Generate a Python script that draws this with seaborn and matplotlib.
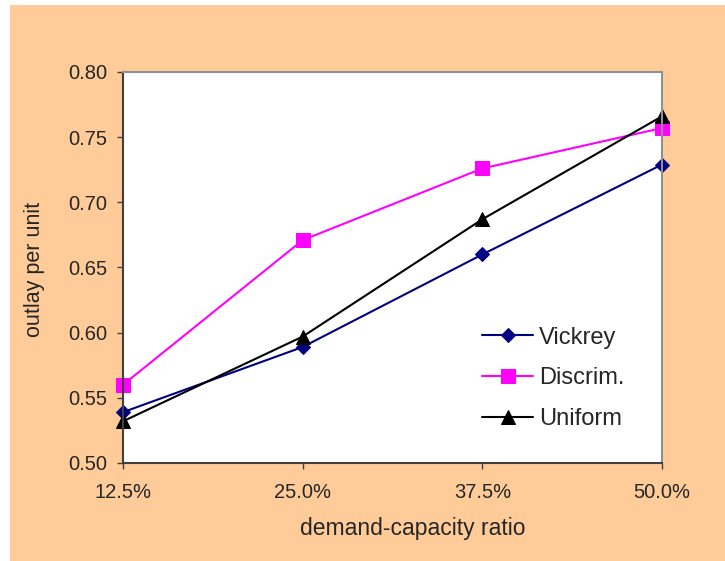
import numpy as np
import pandas as pd
import seaborn as sns
import matplotlib.pyplot as plt
from matplotlib.patches import Rectangle

# Data
ratios = ['12.5%', '25.0%', '37.5%', '50.0%']
vickrey = [0.539, 0.589, 0.660, 0.729]
discrim = [0.560, 0.671, 0.726, 0.757]
uniform = [0.532, 0.597, 0.687, 0.766]
y_ticks = [0.50, 0.55, 0.60, 0.65, 0.70, 0.75, 0.80]

sns.set_style('white')
plt.rcParams['font.family'] = ['Liberation Sans', 'DejaVu Sans']

fig = plt.figure(figsize=(7.25, 5.61), dpi=100)
fig.patch.set_facecolor('white')
# peach chart area, behind everything
bg = Rectangle((10 / 725, 0), 1 - 10 / 725, 1 - 5 / 561,
               transform=fig.transFigure, facecolor='#FFCC99',
               edgecolor='none', zorder=-10)
fig.add_artist(bg)

ax = fig.add_axes([123 / 725, 1 - 463 / 561, (662 - 123) / 725, (463 - 72) / 561])
ax.set_facecolor('white')

x = np.arange(len(ratios))
series = [
    ('Vickrey', vickrey, '#000080', 'D', 7),
    ('Discrim.', discrim, '#FF00FF', 's', 9.5),
    ('Uniform', uniform, 'black', '^', 10),
]
for name, vals, col, mk, ms in series:
    sns.lineplot(x=x, y=vals, ax=ax, color=col, marker=mk, markersize=ms,
                 markeredgecolor=col, linewidth=1.5, label=name, clip_on=False)

ax.set_xlim(0, 3)
ax.set_ylim(0.50, 0.80)
ax.set_xticks(x)
ax.set_xticklabels(ratios)
ax.set_yticks(y_ticks)
ax.set_yticklabels([f'{v:.2f}' for v in y_ticks])
ax.tick_params(axis='both', labelsize=14.5, length=4.5, width=1, color='#404040',
               direction='out', bottom=True, left=True)
ax.tick_params(axis='x', pad=10)
ax.tick_params(axis='y', pad=7)
for side in ['left', 'bottom']:
    ax.spines[side].set_color('#404040')
    ax.spines[side].set_linewidth(1.5)
for side in ['top', 'right']:
    ax.spines[side].set_color('#909090')
    ax.spines[side].set_linewidth(1.5)

ax.set_xlabel('demand-capacity ratio', fontsize=16.5)
ax.xaxis.set_label_coords(0.537, -0.138)
ax.set_ylabel('outlay per unit', fontsize=15.5)
ax.yaxis.set_label_coords(-0.145, 0.494)

ax.legend(loc='upper left', bbox_to_anchor=(0.649, 0.373), borderaxespad=0,
          frameon=False, fontsize=17, handlelength=2.15, labelspacing=0.8,
          handletextpad=0.25)

fig.savefig('out.png', dpi=100)
